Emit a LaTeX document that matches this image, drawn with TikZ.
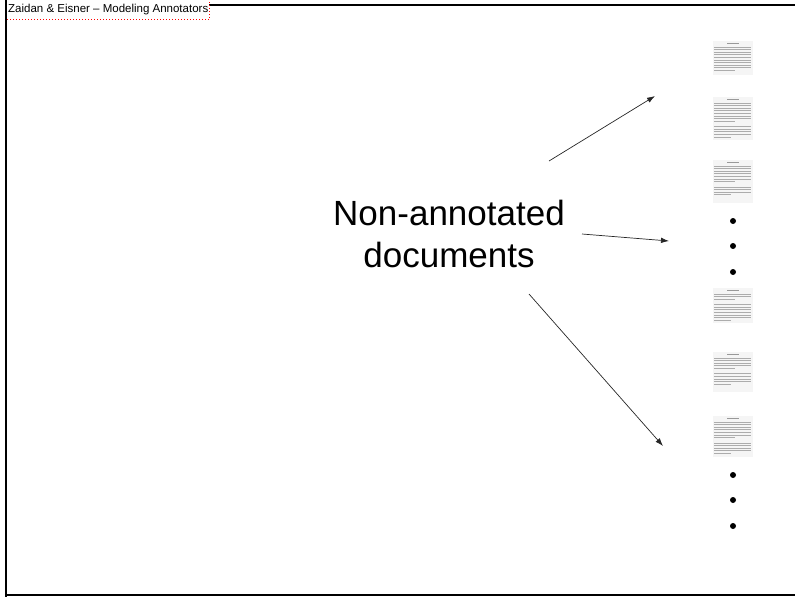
\documentclass[tikz,border=0pt]{standalone}
\usepackage{fontspec}
\setmainfont{Liberation Sans}
\usepackage{tikz}
\usetikzlibrary{arrows.meta, positioning, calc}

% small picture of a document page: name, top y, height, lines in first and second paragraph
\newcommand{\docthumb}[5]{%
  \node[thumb, minimum height=#3, anchor=north] (#1) at (733,#2) {};
  \draw[titleline] ([yshift=-2.2pt]#1.north) ++(-6pt,0) -- ++(12pt,0);
  \foreach \k in {1,...,#4}{
    \pgfmathsetmacro\len{\k==#4 ? 21 : 37}
    \draw[textline] ([xshift=1.5pt,yshift={-3.4pt-2.6pt*\k}]#1.north west) -- ++(\len pt,0);
  }
  \ifnum#5>0
    \foreach \k in {1,...,#5}{
      \pgfmathsetmacro\len{\k==#5 ? 17 : 37}
      \draw[textline] ([xshift=1.5pt,yshift={-6.2pt-2.6pt*(#4+\k)}]#1.north west) -- ++(\len pt,0);
    }
  \fi
}

\begin{document}
\begin{tikzpicture}[
    x=1pt, y=-1pt,
    thumb/.style={fill=gray!8, draw=none, minimum width=40pt, inner sep=0pt},
    titleline/.style={line width=1pt, gray!80},
    textline/.style={line width=1pt, gray!65},
    arrow/.style={-{Latex[length=8pt, width=5.5pt]}, line width=0.7pt, black!85},
    dot/.style={circle, fill=black, inner sep=0pt, minimum size=6pt}
]
    \useasboundingbox (0,0) rectangle (795,597);

    % slide frame
    \draw[line width=2pt] (6.3,0) -- (6.3,597);
    \draw[line width=2pt] (6.3,4.5) -- (795,4.5);
    \draw[line width=1.5pt] (6.3,595.2) -- (795,595.2);

    % header
    \node[anchor=south west, fill=white, inner sep=1pt, minimum height=19pt,
          font=\fontsize{11.5}{13}\selectfont] (header) at (7,19.5) {Zaidan \& Eisner -- Modeling Annotators};
    \draw[red, line width=1.3pt, dash pattern=on 1.4pt off 1.6pt] (header.south west) -- (header.south east) -- (header.north east);

    % main label
    \node[align=center, font=\fontsize{35}{42}\selectfont] (label) at (449,234) {Non-annotated\\documents};

    % document pages
    \docthumb{doc1}{41}{34}{10}{0}
    \docthumb{doc2}{97}{43}{8}{5}
    \docthumb{doc3}{160}{43}{7}{4}
    \docthumb{doc4}{288}{35}{3}{7}
    \docthumb{doc5}{352}{40}{5}{5}
    \docthumb{doc6}{416}{41}{7}{5}

    % vertical ellipses
    \node[dot] (d1) at (733,221) {};
    \node[dot] (d2) at (733,246) {};
    \node[dot] (d3) at (733,272) {};
    \node[dot] (d4) at (733,475) {};
    \node[dot] (d5) at (733,500) {};
    \node[dot] (d6) at (733,526) {};

    % arrows
    \coordinate (from1) at (549,161);
    \coordinate (to1) at (655,96);
    \coordinate (from2) at (582,234);
    \coordinate (to2) at (669,241);
    \coordinate (from3) at (529,294);
    \coordinate (to3) at (663,446);
    \draw[arrow] (from1) -- (to1);
    \draw[arrow] (from2) -- (to2);
    \draw[arrow] (from3) -- (to3);
\end{tikzpicture}
\end{document}
